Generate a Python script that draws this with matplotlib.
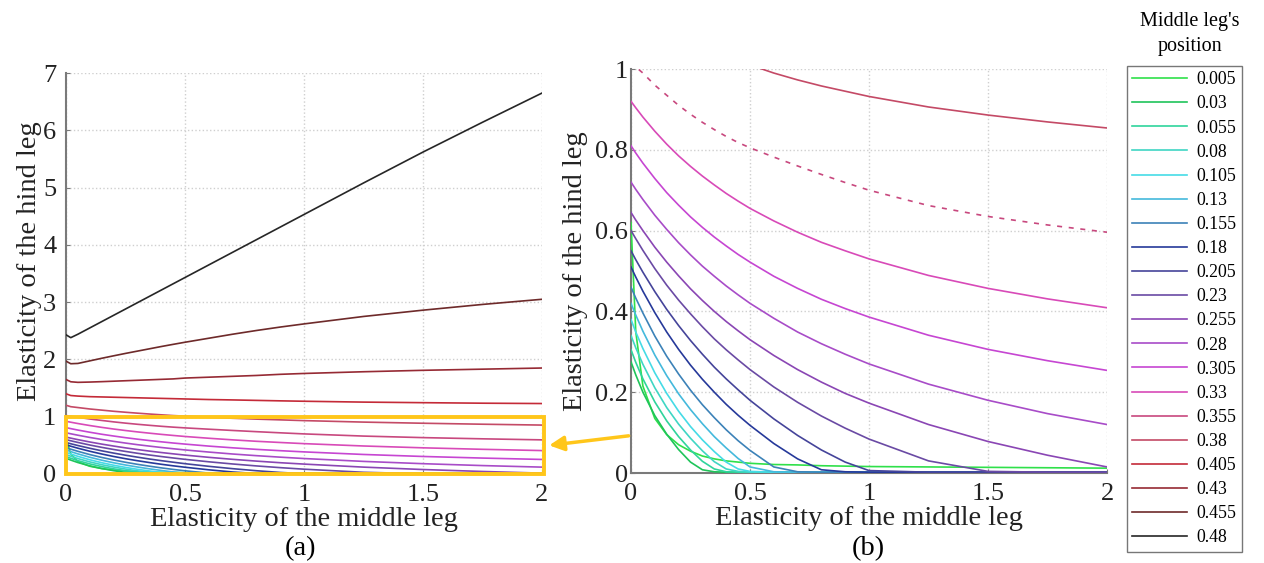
import numpy as np
import matplotlib.pyplot as plt
from matplotlib.lines import Line2D
from matplotlib.patches import Rectangle

plt.rcParams['font.family'] = ['Liberation Serif', 'DejaVu Serif']

# elasticity of the middle leg (common x samples)
middle_elasticity = [0, 0.02, 0.05, 0.1, 0.15, 0.2, 0.25, 0.3, 0.35, 0.4, 0.45, 0.5,
                     0.6, 0.7, 0.8, 0.9, 1.0, 1.25, 1.5, 1.75, 2.0]

positions = ['0.005', '0.03', '0.055', '0.08', '0.105', '0.13', '0.155', '0.18', '0.205', '0.23',
             '0.255', '0.28', '0.305', '0.33', '0.355', '0.38', '0.405', '0.43', '0.455', '0.48']

colors = ['#2fe04a', '#1fc45a', '#2fd49c', '#3fd6c4', '#45dbe6', '#44b9dc', '#3c82b8', '#26399a',
          '#45449a', '#6a4aa4', '#8a46b4', '#a84cc8', '#c646d2', '#d84ab8', '#c8487e', '#c44a66',
          '#c42a38', '#962a34', '#6e2a2a', '#262626']

# elasticity of the hind leg, one row per middle-leg position
hind_elasticity = [
    [0.62, 0.35, 0.215, 0.135, 0.095, 0.07, 0.054, 0.042, 0.035, 0.03, 0.027, 0.024,
     0.021, 0.02, 0.018, 0.017, 0.016, 0.015, 0.014, 0.013, 0.012],
    [0.275, 0.243, 0.2, 0.142, 0.096, 0.058, 0.027, 0.008, 0.003, 0.002, 0.002, 0.002,
     0.002, 0.002, 0.002, 0.002, 0.002, 0.002, 0.002, 0.002, 0.002],
    [0.305, 0.274, 0.233, 0.176, 0.129, 0.09, 0.057, 0.029, 0.01, 0.003, 0.002, 0.002,
     0.002, 0.002, 0.002, 0.002, 0.002, 0.002, 0.002, 0.002, 0.002],
    [0.34, 0.31, 0.269, 0.211, 0.162, 0.121, 0.086, 0.055, 0.028, 0.01, 0.004, 0.002,
     0.002, 0.002, 0.002, 0.002, 0.002, 0.002, 0.002, 0.002, 0.002],
    [0.38, 0.349, 0.308, 0.248, 0.197, 0.153, 0.115, 0.082, 0.053, 0.027, 0.01, 0.004,
     0.002, 0.002, 0.002, 0.002, 0.002, 0.002, 0.002, 0.002, 0.002],
    [0.42, 0.391, 0.351, 0.292, 0.241, 0.196, 0.157, 0.122, 0.09, 0.062, 0.036, 0.015,
     0.003, 0.002, 0.002, 0.002, 0.002, 0.002, 0.002, 0.002, 0.002],
    [0.46, 0.433, 0.396, 0.339, 0.289, 0.245, 0.205, 0.169, 0.137, 0.107, 0.08, 0.056,
     0.015, 0.003, 0.002, 0.002, 0.002, 0.002, 0.002, 0.002, 0.002],
    [0.51, 0.485, 0.45, 0.397, 0.349, 0.306, 0.267, 0.232, 0.2, 0.17, 0.143, 0.118,
     0.073, 0.035, 0.008, 0.003, 0.002, 0.002, 0.002, 0.002, 0.002],
    [0.55, 0.528, 0.497, 0.449, 0.405, 0.365, 0.328, 0.294, 0.262, 0.233, 0.206, 0.18,
     0.134, 0.093, 0.057, 0.027, 0.006, 0.002, 0.002, 0.002, 0.002],
    [0.60, 0.58, 0.551, 0.506, 0.465, 0.428, 0.394, 0.362, 0.332, 0.305, 0.28, 0.256,
     0.213, 0.175, 0.141, 0.111, 0.084, 0.03, 0.004, 0.002, 0.002],
    [0.645, 0.626, 0.6, 0.559, 0.522, 0.488, 0.456, 0.427, 0.4, 0.375, 0.352, 0.33,
     0.291, 0.256, 0.225, 0.197, 0.173, 0.12, 0.078, 0.044, 0.015],
    [0.72, 0.702, 0.677, 0.638, 0.603, 0.57, 0.54, 0.512, 0.487, 0.463, 0.441, 0.42,
     0.383, 0.349, 0.32, 0.294, 0.27, 0.22, 0.18, 0.147, 0.12],
    [0.81, 0.792, 0.767, 0.729, 0.694, 0.663, 0.634, 0.608, 0.584, 0.562, 0.541, 0.522,
     0.487, 0.457, 0.43, 0.407, 0.386, 0.341, 0.306, 0.278, 0.254],
    [0.92, 0.904, 0.881, 0.846, 0.814, 0.785, 0.759, 0.735, 0.713, 0.692, 0.673, 0.655,
     0.624, 0.596, 0.571, 0.55, 0.53, 0.489, 0.457, 0.431, 0.409],
    [1.02, 1.005, 0.99, 0.96, 0.935, 0.91, 0.888, 0.868, 0.85, 0.833, 0.818, 0.805,
     0.782, 0.76, 0.739, 0.719, 0.70, 0.662, 0.635, 0.614, 0.596],
    [1.20, 1.175, 1.16, 1.135, 1.115, 1.095, 1.078, 1.062, 1.047, 1.033, 1.02, 1.01,
     0.99, 0.973, 0.958, 0.945, 0.932, 0.906, 0.886, 0.869, 0.854],
    [1.40, 1.37, 1.36, 1.35, 1.345, 1.34, 1.335, 1.33, 1.325, 1.32, 1.315, 1.31,
     1.30, 1.293, 1.285, 1.277, 1.27, 1.255, 1.245, 1.236, 1.23],
    [1.65, 1.61, 1.60, 1.605, 1.612, 1.62, 1.628, 1.636, 1.644, 1.652, 1.66, 1.675,
     1.69, 1.705, 1.72, 1.74, 1.755, 1.785, 1.81, 1.83, 1.85],
    [1.97, 1.925, 1.93, 1.975, 2.02, 2.063, 2.105, 2.145, 2.185, 2.225, 2.263, 2.30,
     2.37, 2.44, 2.505, 2.565, 2.62, 2.75, 2.86, 2.96, 3.05],
    [2.43, 2.38, 2.44, 2.55, 2.66, 2.77, 2.88, 2.99, 3.10, 3.21, 3.32, 3.43,
     3.65, 3.87, 4.09, 4.31, 4.53, 5.08, 5.62, 6.14, 6.65],
]

GRID = '#cfcfcf'
SPINE = '#7a7a7a'
YELLOW = '#ffc61a'
FS_TICK = 19
FS_LABEL = 20.5

fig = plt.figure(figsize=(12.64, 5.63), dpi=100)
ax1 = fig.add_axes([66 / 1264, 1 - 474 / 563, 476 / 1264, 401 / 563])
ax2 = fig.add_axes([631 / 1264, 1 - 473 / 563, 476 / 1264, 404 / 563])


def style_axes(ax, ylim, yticks, ylabels, pad_y):
    ax.set_xlim(0, 2)
    ax.set_ylim(*ylim)
    ax.set_xticks([0, 0.5, 1, 1.5, 2])
    ax.set_xticklabels(['0', '0.5', '1', '1.5', '2'])
    ax.set_yticks(yticks)
    ax.set_yticklabels(ylabels)
    ax.grid(True, color=GRID, linestyle=':', linewidth=1.0)
    ax.set_axisbelow(True)
    for side in ['top', 'right']:
        ax.spines[side].set_visible(False)
    for side in ['left', 'bottom']:
        ax.spines[side].set_color(SPINE)
        ax.spines[side].set_linewidth(1.5)
    ax.tick_params(axis='both', direction='in', length=3, color=SPINE,
                   labelsize=FS_TICK, labelcolor='#222222')
    ax.tick_params(axis='x', pad=7)
    ax.tick_params(axis='y', pad=pad_y)
    ax.set_xlabel('Elasticity of the middle leg', fontsize=FS_LABEL, color='#222222')
    ax.set_ylabel('Elasticity of the hind leg', fontsize=FS_LABEL, color='#222222')


for i, pos in enumerate(positions):
    ax1.plot(middle_elasticity, hind_elasticity[i], color=colors[i], lw=1.2, zorder=3)
    ls = (0, (3, 4)) if pos == '0.355' else '-'
    ax2.plot(middle_elasticity, hind_elasticity[i], color=colors[i], lw=1.2, ls=ls, zorder=3)

style_axes(ax1, (0, 7), range(8), [str(v) for v in range(8)], 7)
style_axes(ax2, (0, 1), [0, 0.2, 0.4, 0.6, 0.8, 1], ['0', '0.2', '0.4', '0.6', '0.8', '1'], 2)
ax1.yaxis.set_label_coords(-0.05, 0.53)
ax2.yaxis.set_label_coords(-0.09, 0.5)
ax1.xaxis.set_label_coords(0.5, -0.082)
ax2.xaxis.set_label_coords(0.5, -0.082)

# zoom box on panel (a) and arrow from panel (b)
ax1.add_patch(Rectangle((0, 0), 2.01, 1, fill=False, edgecolor=YELLOW, lw=2.8,
                        zorder=5, clip_on=False))
ax2.annotate('', xy=(2.03, 0.5), xycoords=ax1.transData, xytext=(-0.01, 0.092),
             textcoords='data', annotation_clip=False,
             arrowprops=dict(arrowstyle='-|>', color=YELLOW, lw=2.5, mutation_scale=22,
                             shrinkA=0, shrinkB=0))

fig.text(300 / 1264, 1 - 549 / 563, '(a)', ha='center', va='center', fontsize=FS_LABEL)
fig.text(868 / 1264, 1 - 549 / 563, '(b)', ha='center', va='center', fontsize=FS_LABEL)

handles = [Line2D([], [], color=c, lw=1.2) for c in colors]
leg = fig.legend(handles, positions, loc='upper left',
                 bbox_to_anchor=(1127 / 1264, 1 - 66 / 563), fontsize=12.8,
                 handlelength=3.1, handletextpad=0.5, labelspacing=0.4,
                 borderpad=0.3, borderaxespad=0, frameon=True, fancybox=False)
leg.get_frame().set_edgecolor('#555555')
leg.get_frame().set_linewidth(1.0)
fig.text(1190 / 1264, 1 - 34 / 563, "Middle leg's\nposition", ha='center', va='center',
         fontsize=14.5, linespacing=1.45)

fig.savefig('out.png', dpi=100)
